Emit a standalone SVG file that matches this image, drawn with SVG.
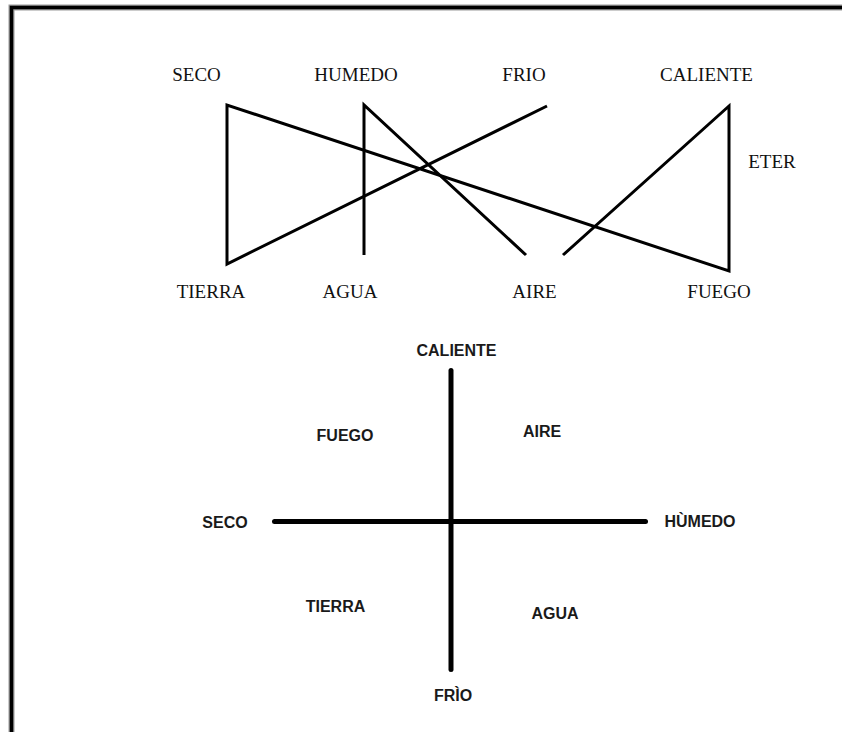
<svg xmlns="http://www.w3.org/2000/svg" width="842" height="732" viewBox="0 0 842 732">
  <style>
    .serif { font-family: "Liberation Serif", "Times New Roman", serif; font-size: 19px; fill: #111; text-anchor: middle; }
    .sans { font-family: "Liberation Sans", Arial, sans-serif; font-size: 16px; font-weight: bold; fill: #1a1a1a; text-anchor: middle; }
    .link { fill: none; stroke: #000; stroke-width: 3; stroke-linejoin: miter; stroke-linecap: butt; }
    .axis { fill: none; stroke: #000; stroke-width: 5; stroke-linecap: round; }
    .frame-halo { fill: none; stroke: #9a9a9a; stroke-width: 6; }
    .frame { fill: none; stroke: #000; stroke-width: 3.5; }
  </style>

  <rect x="0" y="0" width="842" height="732" fill="#fff"/>

  <!-- page frame: top and left edges only -->
  <g id="frame">
    <path class="frame-halo" d="M11.5,732 L11.5,7.5 L842,7.5"/>
    <path class="frame" d="M11.5,732 L11.5,7.5 L842,7.5"/>
  </g>

  <!-- upper scheme: qualities (top row) linked to elements (bottom row) -->
  <g id="q-seco"><text class="serif" x="196.5" y="80.5">SECO</text></g>
  <g id="q-humedo"><text class="serif" x="356" y="80.5">HUMEDO</text></g>
  <g id="q-frio"><text class="serif" x="524" y="80.5">FRIO</text></g>
  <g id="q-caliente"><text class="serif" x="706.5" y="80.5">CALIENTE</text></g>
  <g id="e-eter"><text class="serif" x="772" y="168">ETER</text></g>
  <g id="e-tierra"><text class="serif" x="211" y="297.5">TIERRA</text></g>
  <g id="e-agua"><text class="serif" x="350" y="297.5">AGUA</text></g>
  <g id="e-aire"><text class="serif" x="534.5" y="297.5">AIRE</text></g>
  <g id="e-fuego"><text class="serif" x="719" y="297.5">FUEGO</text></g>

  <g id="connectors">
    <path class="link" d="M547,106 L227,264 L227,105 L729,271 L729,106 L563,255"/>
    <path class="link" d="M364,255 L364,105 L526,255"/>
  </g>

  <!-- lower scheme: cross of the four qualities -->
  <g id="axes">
    <line class="axis" x1="451" y1="370.5" x2="451" y2="669.5"/>
    <line class="axis" x1="274.5" y1="521.5" x2="645.5" y2="521.5"/>
  </g>
  <g id="c-caliente"><text class="sans" x="456.5" y="356">CALIENTE</text></g>
  <g id="c-frio"><text class="sans" x="453" y="700.5">FRÌO</text></g>
  <g id="c-seco"><text class="sans" x="225" y="528">SECO</text></g>
  <g id="c-humedo"><text class="sans" x="700" y="527">HÙMEDO</text></g>
  <g id="c-fuego"><text class="sans" x="345" y="441">FUEGO</text></g>
  <g id="c-aire"><text class="sans" x="542" y="436.5">AIRE</text></g>
  <g id="c-tierra"><text class="sans" x="335.5" y="611.5">TIERRA</text></g>
  <g id="c-agua"><text class="sans" x="555" y="619">AGUA</text></g>
</svg>
